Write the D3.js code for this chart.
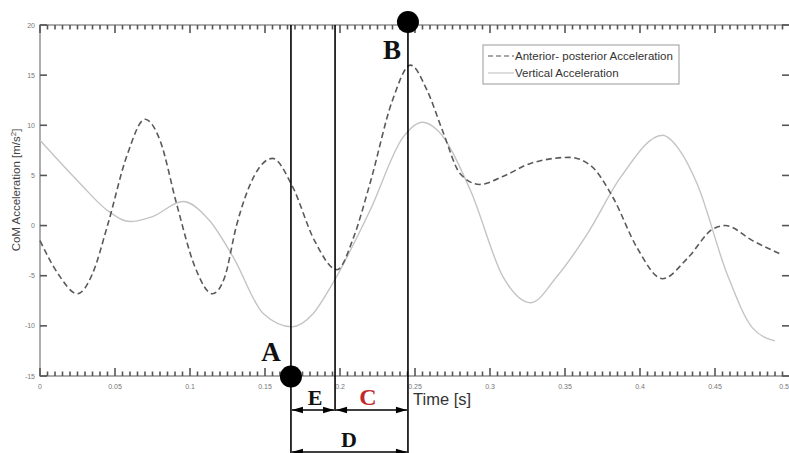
<!DOCTYPE html>
<html><head><meta charset="utf-8">
<script src="https://cdn.jsdelivr.net/npm/d3@7"></script>
<style>html,body{margin:0;padding:0;background:#fff;overflow:hidden}</style>
</head><body>
<svg id="chart" width="789" height="453"></svg>
<script>
// ---- data ----
const apTimes = [0,0.012,0.025,0.035,0.045,0.058,0.07,0.08,0.091,0.103,0.115,0.123,0.131,0.143,0.155,0.168,0.183,0.198,0.209,0.22,0.235,0.247,0.258,0.269,0.28,0.293,0.31,0.327,0.353,0.367,0.382,0.398,0.415,0.432,0.449,0.457,0.475,0.493];
const apValues = [-1.5,-4.8,-6.8,-4.8,0,7.0,10.6,8.5,2.2,-4.0,-6.8,-5.2,0,5.0,6.7,4.0,-1.5,-4.4,-1.2,4.2,12.5,16.0,13.5,9.2,5.2,4.1,5.0,6.2,6.8,6.0,2.8,-2.2,-5.3,-3.2,-0.3,0.0,-1.5,-2.8];
const vTimes = [0,0.0267,0.045,0.06,0.075,0.0953,0.113,0.129,0.149,0.168,0.182,0.195,0.22,0.242,0.255,0.265,0.287,0.309,0.327,0.345,0.365,0.387,0.415,0.426,0.438,0.458,0.475,0.49];
const vValues = [8.5,4.2,1.5,0.4,0.9,2.4,0.5,-3.2,-8.8,-10.1,-8.8,-5.8,1.5,8.8,10.3,9.5,3.5,-5.2,-7.7,-5.0,-0.8,4.8,9.0,7.6,4.2,-4.8,-10.2,-11.5];
const xTicks = [0,0.05,0.1,0.15,0.2,0.25,0.3,0.35,0.4,0.45,0.5];
const yTicks = [-15,-10,-5,0,5,10,15,20];
const seriesNames = ["Anterior- posterior Acceleration","Vertical Acceleration"];
const eventTimes = {A:0.1673, E:0.1967, B:0.2453};

// ---- layout ----
const svg = d3.select("#chart");
const x = d3.scaleLinear().domain([0,0.5]).range([40,790]);
const y = d3.scaleLinear().domain([-15,20]).range([376,25]);
const axisColor = "#555", tickTextColor = "#777";
const sans = "Liberation Sans, Arial, sans-serif";

// frame
svg.append("rect").attr("x",40).attr("y",25).attr("width",750).attr("height",351)
  .attr("fill","none").attr("stroke","#8a8a8a").attr("stroke-width",1.4);

const minor = d3.range(0,101).map(i=>+(i*0.005).toFixed(3));
const isMajor = t => Math.abs(t/0.05 - Math.round(t/0.05)) < 1e-6;

// x ticks (bottom up, top down)
const tg = svg.append("g").attr("stroke",axisColor).attr("stroke-width",1.6);
tg.selectAll("line.bt").data(minor).enter().append("line")
  .attr("x1",d=>x(d)).attr("x2",d=>x(d))
  .attr("y1",y(-15)).attr("y2",d=>y(-15)-(isMajor(d)?8:4.5));
tg.selectAll("line.tt").data(minor).enter().append("line")
  .attr("x1",d=>x(d)).attr("x2",d=>x(d))
  .attr("y1",y(20)).attr("y2",d=>y(20)+(isMajor(d)?8:4.5));
// y ticks (left, right)
tg.selectAll("line.lt").data(yTicks).enter().append("line")
  .attr("x1",40).attr("x2",47).attr("y1",d=>y(d)).attr("y2",d=>y(d));
tg.selectAll("line.rt").data(yTicks).enter().append("line")
  .attr("x1",789).attr("x2",782).attr("y1",d=>y(d)).attr("y2",d=>y(d));

// tick labels
svg.selectAll("text.xl").data(xTicks).enter().append("text")
  .attr("x",d=>x(d)).attr("y",389).attr("text-anchor",d=>d===0.5?"end":"middle")
  .attr("dx",d=>d===0.5?"-1":"0")
  .attr("font-family",sans).attr("font-size","7px").attr("fill",tickTextColor)
  .text(d=>String(+d.toFixed(2)));
svg.selectAll("text.yl").data(yTicks).enter().append("text")
  .attr("x",35).attr("y",d=>y(d)+2.5).attr("text-anchor","end")
  .attr("font-family",sans).attr("font-size","7px").attr("fill",tickTextColor)
  .text(d=>String(d));

// axis labels
svg.append("text").attr("transform","translate(20,190) rotate(-90)").attr("text-anchor","middle")
  .attr("font-family",sans).attr("font-size","11.5px").attr("fill","#444")
  .html('CoM Acceleration [m/s<tspan dy="-4" font-size="8px">2</tspan><tspan dy="4">]</tspan>');
svg.append("text").attr("x",413).attr("y",405).attr("font-family",sans)
  .attr("font-size","16.5px").attr("fill","#333").text("Time [s]");

// series
const line = d3.line().x(d=>x(d[0])).y(d=>y(d[1])).curve(d3.curveMonotoneX);
svg.append("path").datum(d3.zip(vTimes,vValues)).attr("d",line)
  .attr("fill","none").attr("stroke","#c4c4c4").attr("stroke-width",1.4);
svg.append("path").datum(d3.zip(apTimes,apValues)).attr("d",line)
  .attr("fill","none").attr("stroke","#5a5a5a").attr("stroke-width",1.6).attr("stroke-dasharray","6,3.5");

// legend
const lg = svg.append("g");
lg.append("rect").attr("x",483).attr("y",45).attr("width",196).attr("height",39)
  .attr("fill","#fff").attr("stroke","#999").attr("stroke-width",1);
lg.append("line").attr("x1",488).attr("x2",514).attr("y1",56).attr("y2",56)
  .attr("stroke","#555").attr("stroke-width",1.2).attr("stroke-dasharray","5,3");
lg.append("line").attr("x1",488).attr("x2",514).attr("y1",73).attr("y2",73)
  .attr("stroke","#c4c4c4").attr("stroke-width",1.2);
lg.selectAll("text.lt").data(seriesNames).enter().append("text")
  .attr("x",515).attr("y",(d,i)=>60+i*17).attr("font-family",sans)
  .attr("font-size","11.5px").attr("fill","#333").text(d=>d);

// annotations
const xa = x(eventTimes.A), xe = x(eventTimes.E), xb = x(eventTimes.B);
const ann = svg.append("g").attr("stroke","#000").attr("stroke-width",1.6);
ann.append("line").attr("x1",xa).attr("x2",xa).attr("y1",25).attr("y2",453);
ann.append("line").attr("x1",xe).attr("x2",xe).attr("y1",25).attr("y2",411);
ann.append("line").attr("x1",xb).attr("x2",xb).attr("y1",25).attr("y2",453);

function arrow(x1,x2,yy){
  ann.append("line").attr("x1",x1).attr("x2",x2).attr("y1",yy).attr("y2",yy);
  const L=11,H=3.2;
  svg.append("path").attr("d",`M${x1},${yy}L${x1+L},${yy-H}L${x1+L},${yy+H}Z`).attr("fill","#000");
  svg.append("path").attr("d",`M${x2},${yy}L${x2-L},${yy-H}L${x2-L},${yy+H}Z`).attr("fill","#000");
}
arrow(xa+1,xe-1,410);
arrow(xe+1,xb-1,410);
arrow(xa+1,xb-1,452);

svg.append("circle").attr("cx",xa).attr("cy",y(-15)+0.5).attr("r",11).attr("fill","#000");
svg.append("circle").attr("cx",xb).attr("cy",22).attr("r",11).attr("fill","#000");

const serif = "Liberation Serif, Times New Roman, serif";
const letters = [
  {t:"A", x:271, y:361, s:27, c:"#111"},
  {t:"B", x:392, y:59, s:27, c:"#111"},
  {t:"E", x:315, y:405, s:22, c:"#111"},
  {t:"C", x:368, y:405, s:24, c:"#c0282c"},
  {t:"D", x:349, y:447, s:22, c:"#111"}
];
svg.selectAll("text.lab").data(letters).enter().append("text")
  .attr("x",d=>d.x).attr("y",d=>d.y).attr("text-anchor","middle").attr("font-family",serif)
  .attr("font-weight","bold").attr("font-size",d=>d.s+"px").attr("fill",d=>d.c).text(d=>d.t);
</script>
</body></html>
